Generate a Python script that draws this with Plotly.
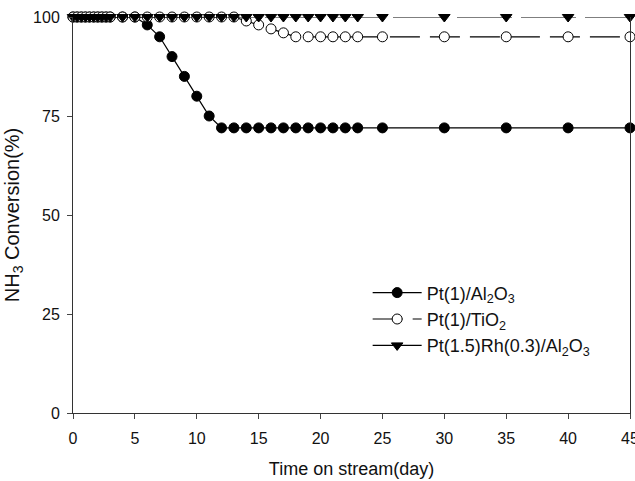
import plotly.graph_objects as go

# Data
days_al = [0, 0.33, 0.67, 1, 1.33, 1.67, 2, 2.33, 2.67, 3, 4, 5, 6, 7, 8, 9, 10, 11, 12,
           13, 14, 15, 16, 17, 18, 19, 20, 21, 22, 23, 25, 30, 35, 40, 45]
conv_al = [100, 100, 100, 100, 100, 100, 100, 100, 100, 100, 100, 100, 98, 95, 90, 85, 80, 75, 72,
           72, 72, 72, 72, 72, 72, 72, 72, 72, 72, 72, 72, 72, 72, 72, 72]

days_ti = days_al
conv_ti = [100, 100, 100, 100, 100, 100, 100, 100, 100, 100, 100, 100, 100, 100, 100, 100, 100, 100, 100,
           100, 99, 98, 97, 96, 95, 95, 95, 95, 95, 95, 95, 95, 95, 95, 95]

days_rh = days_al
conv_rh = [100] * len(days_rh)

names = ["Pt(1)/Al<sub>2</sub>O<sub>3</sub>", "Pt(1)/TiO<sub>2</sub>",
         "Pt(1.5)Rh(0.3)/Al<sub>2</sub>O<sub>3</sub>"]

x_ticks = [0, 5, 10, 15, 20, 25, 30, 35, 40, 45]
y_ticks = [0, 25, 50, 75, 100]

FONT = "Liberation Sans, Arial, sans-serif"

fig = go.Figure()
fig.add_trace(go.Scatter(
    x=days_al, y=conv_al, name=names[0], mode="lines+markers",
    line=dict(color="black", width=1.2),
    marker=dict(symbol="circle", size=10, color="black", line=dict(color="black", width=1)),
    cliponaxis=False))
fig.add_trace(go.Scatter(
    x=days_ti, y=conv_ti, name=names[1], mode="lines+markers",
    line=dict(color="black", width=1.2, dash="30px,10px"),
    marker=dict(symbol="circle", size=10, color="white", line=dict(color="black", width=1)),
    cliponaxis=False))
fig.add_trace(go.Scatter(
    x=days_rh, y=conv_rh, name=names[2], mode="lines+markers",
    line=dict(color="black", width=1.2, dash="55px,9px"),
    marker=dict(symbol="triangle-down", size=10, color="black", line=dict(color="black", width=1)),
    cliponaxis=False))

fig.update_layout(
    width=635, height=481,
    margin=dict(l=73, r=5, t=17, b=68),
    plot_bgcolor="white", paper_bgcolor="white",
    font=dict(family=FONT, size=16, color="#111111"),
    showlegend=True,
    legend=dict(x=0.529, y=0.35, xanchor="left", yanchor="top",
                bgcolor="rgba(0,0,0,0)", font=dict(size=18, family=FONT),
                tracegroupgap=0, itemwidth=49),
    xaxis=dict(range=[0, 45], tickvals=x_ticks, ticks="outside", ticklen=5,
               showline=True, linecolor="#333333", linewidth=1, showgrid=False,
               zeroline=False, mirror=False, ticklabeloverflow="allow",
               ticklabelstandoff=6, automargin=False,
               title=dict(text="Time on stream(day)", font=dict(size=18), standoff=16),
               tickfont=dict(size=16)),
    yaxis=dict(range=[0, 100], tickvals=y_ticks, ticks="outside", ticklen=5,
               showline=True, linecolor="#333333", linewidth=1, showgrid=False,
               zeroline=False, mirror=True, ticklabelstandoff=4, automargin=False,
               title=dict(text="NH<sub>3</sub> Conversion(%)", font=dict(size=20), standoff=8),
               tickfont=dict(size=16)),
)

fig.write_html("out.html")
